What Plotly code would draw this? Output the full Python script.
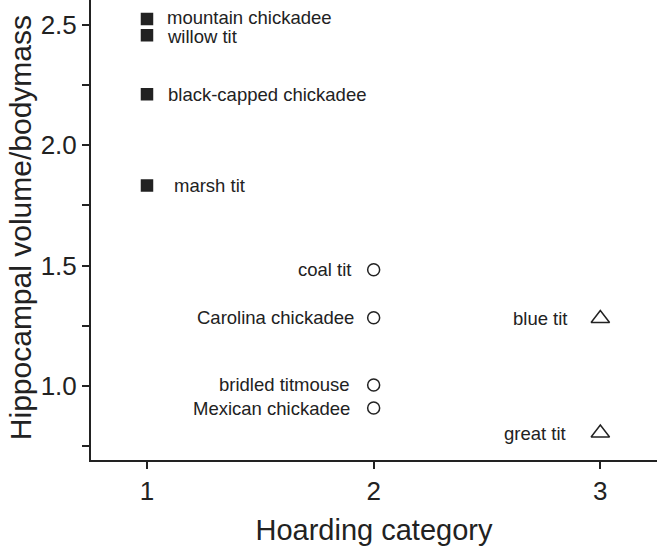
import plotly.graph_objects as go

species = ["mountain chickadee", "willow tit", "black-capped chickadee", "marsh tit",
           "coal tit", "Carolina chickadee", "bridled titmouse", "Mexican chickadee",
           "blue tit", "great tit"]
category = [1, 1, 1, 1, 2, 2, 2, 2, 3, 3]
hippo = [2.525, 2.458, 2.212, 1.833, 1.483, 1.283, 1.004, 0.908, 1.28, 0.804]
# per-species label shift (pixels) and vertical shift
label_dx = [18, 18, 19, 25, -21, -18, -22, -22, -30, -32]
label_dy = [2, -1, 0, 0, 0, 0, 0, 0, 0, 0]

fig = go.Figure()

groups = [
    (1, "square", "#222222", "#222222", 11),
    (2, "circle-open", "#222222", "#222222", 12),
    (3, "triangle-up-open", "#222222", "#222222", 16),
]
for cat, sym, col, lcol, size in groups:
    xs = [c for c in category if c == cat]
    ys = [h for c, h in zip(category, hippo) if c == cat]
    fig.add_trace(go.Scatter(
        x=xs, y=ys, mode="markers",
        marker=dict(symbol=sym, size=size, color=col,
                    line=dict(color=lcol, width=1.5)),
        showlegend=False, hoverinfo="skip"))

for name, c, h, dx, dy in zip(species, category, hippo, label_dx, label_dy):
    fig.add_annotation(
        x=c, y=h, text=name, showarrow=False,
        xanchor="left" if dx > 0 else "right",
        xshift=dx, yshift=dy,
        font=dict(family="Liberation Sans, Arial", size=18.5, color="#222222"))

# y-axis title as a rotated annotation
fig.add_annotation(
    xref="paper", yref="paper", x=-0.1254, y=0.504,
    text="Hippocampal volume/bodymass", textangle=-90, showarrow=False,
    xanchor="center", yanchor="middle",
    font=dict(family="Liberation Sans, Arial", size=30, color="#222222"))

fig.update_layout(
    width=662, height=555,
    margin=dict(l=91, r=5, t=0, b=95),
    plot_bgcolor="white", paper_bgcolor="white",
    font=dict(family="Liberation Sans, Arial", color="#222222"),
)
fig.update_xaxes(
    range=[0.753, 3.25], tickvals=[1, 2, 3], ticktext=["1", "2", "3"],
    showline=True, linecolor="#222222", linewidth=2,
    ticks="outside", ticklen=7, tickwidth=2, tickcolor="#222222",
    showgrid=False, zeroline=False,
    tickfont=dict(size=26),
    title=dict(text="Hoarding category", font=dict(size=29), standoff=14),
)
fig.update_yaxes(
    range=[0.692, 2.604], tickvals=[1.0, 1.5, 2.0, 2.5],
    ticktext=["1.0", "1.5", "2.0", "2.5"],
    showline=True, linecolor="#222222", linewidth=2,
    ticks="outside", ticklen=7, tickwidth=2, tickcolor="#222222",
    minor=dict(tickvals=[0.75, 1.25, 1.75, 2.25], ticks="outside", ticklen=7,
               tickwidth=2, tickcolor="#222222"),
    showgrid=False, zeroline=False,
    tickfont=dict(size=26),
)

fig.write_html("out.html")
